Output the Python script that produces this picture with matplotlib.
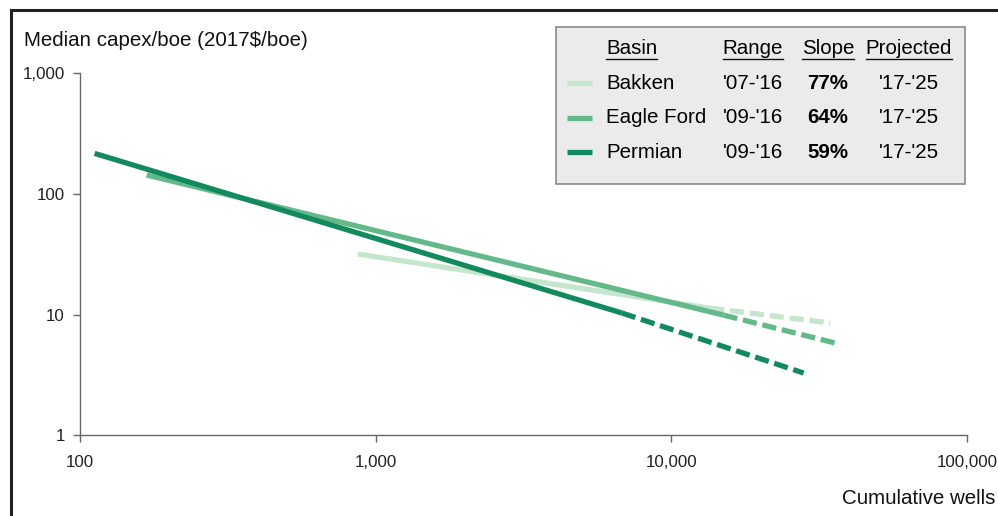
import matplotlib.pyplot as plt
from matplotlib.lines import Line2D
from matplotlib.patches import Rectangle
from matplotlib.ticker import FixedLocator, NullLocator

plt.rcParams['font.family'] = ['Liberation Sans', 'DejaVu Sans']

basins = ['Bakken', 'Eagle Ford', 'Permian']
ranges = ["'07-'16", "'09-'16", "'09-'16"]
slopes = ['77%', '64%', '59%']
projected = ["'17-'25", "'17-'25", "'17-'25"]
colors = ['#c5e6cc', '#63b98a', '#138a5e']

# historical fit (solid) and projection (dashed), cumulative wells vs capex/boe
hist_x = [[870, 13500], [168, 15000], [112, 6800]]
hist_y = [[31.7, 11.3], [143, 9.9], [216, 10.3]]
proj_x = [[13500, 34500], [15000, 35900], [6800, 28000]]
proj_y = [[11.3, 8.5], [9.9, 5.8], [10.3, 3.28]]

xticks = [100, 1000, 10000, 100000]
yticks = [1, 10, 100, 1000]

fig = plt.figure(figsize=(9.98, 5.16), dpi=100)
ax = fig.add_axes([0.0802, 0.1564, 0.8888, 0.7021])

for i in range(len(basins)):
    ax.plot(hist_x[i], hist_y[i], color=colors[i], lw=3.8, solid_capstyle='butt', zorder=3 + i)
    ax.plot(proj_x[i], proj_y[i], color=colors[i], lw=3.8, dashes=(2.7, 1.1),
            dash_capstyle='butt', zorder=3 + i)

ax.set_xscale('log')
ax.set_yscale('log')
ax.set_xlim(100, 100000)
ax.set_ylim(1, 1000)
ax.xaxis.set_major_locator(FixedLocator(xticks))
ax.yaxis.set_major_locator(FixedLocator(yticks))
ax.xaxis.set_minor_locator(NullLocator())
ax.yaxis.set_minor_locator(NullLocator())
ax.set_xticklabels([f'{t:,}' for t in xticks])
ax.set_yticklabels([f'{t:,}' for t in yticks])
ax.tick_params(colors='#666666', labelcolor='#222222', labelsize=12.2, length=5, width=1)
ax.tick_params(axis='x', pad=9)
ax.tick_params(axis='y', pad=6)
for s in ['top', 'right']:
    ax.spines[s].set_visible(False)
for s in ['left', 'bottom']:
    ax.spines[s].set_color('#666666')
    ax.spines[s].set_linewidth(1)

fs = 14.8
fig.text(0.024, 0.922, 'Median capex/boe (2017$/boe)', fontsize=fs, color='#111111', va='center')
fig.text(0.997, 0.034, 'Cumulative wells', fontsize=fs, color='#111111', ha='right', va='center')

# outer frame
fig.add_artist(Line2D([0.011, 0.011], [0, 0.981], color='#222222', lw=2.2, transform=fig.transFigure))
fig.add_artist(Line2D([0.011, 1.0], [0.981, 0.981], color='#222222', lw=2.2, transform=fig.transFigure))

# table-like legend
W, H = 998, 516
fig.add_artist(Rectangle((556 / W, 1 - 184 / H), 409 / W, 157 / H, transform=fig.transFigure,
                         facecolor='#ebebeb', edgecolor='#8a8a8a', lw=1.2, zorder=10))
head_y = 1 - 49 / H
heads = [
    fig.text(606 / W, head_y, 'Basin', fontsize=fs, va='center', ha='left', zorder=11),
    fig.text(753 / W, head_y, 'Range', fontsize=fs, va='center', ha='center', zorder=11),
    fig.text(828 / W, head_y, 'Slope', fontsize=fs, va='center', ha='center', zorder=11),
    fig.text(909 / W, head_y, 'Projected', fontsize=fs, va='center', ha='center', zorder=11),
]
for i in range(len(basins)):
    yy = 1 - (83 + 34.5 * i) / H
    fig.add_artist(Line2D([567 / W, 592 / W], [yy, yy], color=colors[i], lw=3.8,
                          solid_capstyle='butt', transform=fig.transFigure, zorder=11))
    fig.text(606 / W, yy, basins[i], fontsize=fs, va='center', ha='left', zorder=11)
    fig.text(753 / W, yy, ranges[i], fontsize=fs, va='center', ha='center', zorder=11)
    fig.text(828 / W, yy, slopes[i], fontsize=fs, va='center', ha='center', fontweight='bold', zorder=11)
    fig.text(909 / W, yy, projected[i], fontsize=fs, va='center', ha='center', zorder=11)

# underline the header texts
fig.canvas.draw()
r = fig.canvas.get_renderer()
for t in heads:
    bb = t.get_window_extent(r)
    fig.add_artist(Line2D([bb.x0 / W, bb.x1 / W], [1 - 59 / H, 1 - 59 / H], color='#111111', lw=1,
                          transform=fig.transFigure, zorder=11))

fig.savefig('out.png', dpi=100)
